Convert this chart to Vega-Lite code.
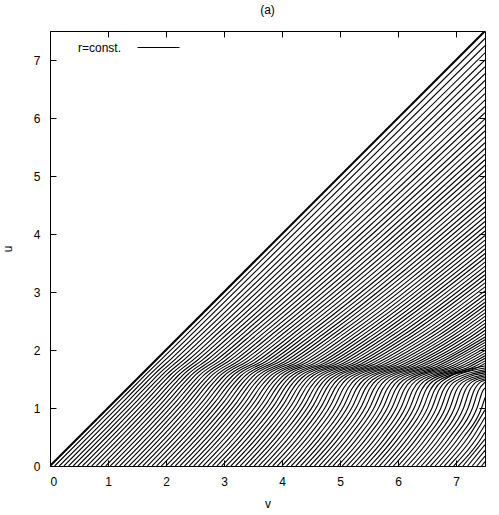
{
  "$schema": "https://vega.github.io/schema/vega-lite/v6.json",
  "width": 435,
  "height": 435,
  "autosize": {"type": "none"},
  "padding": {"left": 50, "top": 31, "right": 14, "bottom": 49},
  "background": "white",
  "config": {
    "font": "Liberation Sans",
    "view": {"stroke": "black", "strokeWidth": 1},
    "axis": {"domain": false, "grid": false, "labelFont": "Liberation Sans", "labelFontSize": 12, "labelColor": "black", "tickColor": "black", "tickSize": -6, "titleFont": "Liberation Sans", "titleFontSize": 12, "titleFontWeight": "normal", "titleColor": "black"}
  },
  "title": {"text": "(a)", "font": "Liberation Sans", "fontSize": 12, "fontWeight": "normal", "offset": 9},
  "datasets": {
    "lines": [
{"k":1,"v":0.08,"u":0},{"k":1,"v":0.727,"u":0.648},{"k":1,"v":1.224,"u":1.148},{"k":1,"v":1.521,"u":1.448},{"k":1,"v":1.67,"u":1.598},{"k":1,"v":1.928,"u":1.848},{"k":1,"v":2.435,"u":2.348},{"k":1,"v":7.5,"u":7.373},
{"k":2,"v":0.16,"u":0},{"k":2,"v":0.803,"u":0.646},{"k":2,"v":1.298,"u":1.146},{"k":2,"v":1.592,"u":1.446},{"k":2,"v":1.741,"u":1.596},{"k":2,"v":2.006,"u":1.846},{"k":2,"v":2.52,"u":2.346},{"k":2,"v":7.5,"u":7.247},
{"k":3,"v":0.24,"u":0},{"k":3,"v":0.88,"u":0.644},{"k":3,"v":1.372,"u":1.144},{"k":3,"v":1.663,"u":1.444},{"k":3,"v":1.811,"u":1.594},{"k":3,"v":2.084,"u":1.844},{"k":3,"v":2.606,"u":2.344},{"k":3,"v":7.5,"u":7.124},
{"k":4,"v":0.32,"u":0},{"k":4,"v":0.957,"u":0.642},{"k":4,"v":1.445,"u":1.142},{"k":4,"v":1.733,"u":1.442},{"k":4,"v":1.881,"u":1.592},{"k":4,"v":2.162,"u":1.842},{"k":4,"v":2.691,"u":2.342},{"k":4,"v":7.5,"u":7.002},
{"k":5,"v":0.4,"u":0},{"k":5,"v":1.034,"u":0.64},{"k":5,"v":1.519,"u":1.14},{"k":5,"v":1.804,"u":1.44},{"k":5,"v":1.952,"u":1.59},{"k":5,"v":2.24,"u":1.84},{"k":5,"v":2.776,"u":2.34},{"k":5,"v":7.5,"u":6.882},
{"k":6,"v":0.48,"u":0},{"k":6,"v":1.11,"u":0.638},{"k":6,"v":1.593,"u":1.138},{"k":6,"v":1.875,"u":1.438},{"k":6,"v":2.022,"u":1.588},{"k":6,"v":2.318,"u":1.838},{"k":6,"v":2.861,"u":2.338},{"k":6,"v":7.5,"u":6.764},
{"k":7,"v":0.56,"u":0},{"k":7,"v":1.187,"u":0.636},{"k":7,"v":1.667,"u":1.136},{"k":7,"v":1.946,"u":1.436},{"k":7,"v":2.092,"u":1.586},{"k":7,"v":2.396,"u":1.836},{"k":7,"v":2.946,"u":2.336},{"k":7,"v":7.5,"u":6.648},
{"k":8,"v":0.64,"u":0},{"k":8,"v":1.264,"u":0.634},{"k":8,"v":1.741,"u":1.134},{"k":8,"v":2.017,"u":1.434},{"k":8,"v":2.163,"u":1.584},{"k":8,"v":2.474,"u":1.834},{"k":8,"v":3.032,"u":2.334},{"k":8,"v":7.5,"u":6.534},
{"k":9,"v":0.72,"u":0},{"k":9,"v":1.34,"u":0.632},{"k":9,"v":1.815,"u":1.132},{"k":9,"v":2.088,"u":1.432},{"k":9,"v":2.233,"u":1.582},{"k":9,"v":2.552,"u":1.832},{"k":9,"v":3.117,"u":2.332},{"k":9,"v":7.5,"u":6.421},
{"k":10,"v":0.8,"u":0},{"k":10,"v":1.417,"u":0.63},{"k":10,"v":1.888,"u":1.13},{"k":10,"v":2.158,"u":1.43},{"k":10,"v":2.303,"u":1.58},{"k":10,"v":2.63,"u":1.83},{"k":10,"v":3.202,"u":2.33},{"k":10,"v":7.5,"u":6.31},
{"k":11,"v":0.88,"u":0},{"k":11,"v":1.494,"u":0.628},{"k":11,"v":1.962,"u":1.128},{"k":11,"v":2.229,"u":1.428},{"k":11,"v":2.374,"u":1.578},{"k":11,"v":2.708,"u":1.828},{"k":11,"v":3.287,"u":2.328},{"k":11,"v":7.5,"u":6.2},
{"k":12,"v":0.96,"u":0},{"k":12,"v":1.57,"u":0.626},{"k":12,"v":2.036,"u":1.126},{"k":12,"v":2.3,"u":1.426},{"k":12,"v":2.444,"u":1.576},{"k":12,"v":2.786,"u":1.826},{"k":12,"v":3.372,"u":2.326},{"k":12,"v":7.5,"u":6.092},
{"k":13,"v":1.04,"u":0},{"k":13,"v":1.647,"u":0.624},{"k":13,"v":2.11,"u":1.124},{"k":13,"v":2.371,"u":1.424},{"k":13,"v":2.514,"u":1.574},{"k":13,"v":2.864,"u":1.824},{"k":13,"v":3.458,"u":2.324},{"k":13,"v":7.5,"u":5.986},
{"k":14,"v":1.12,"u":0},{"k":14,"v":1.724,"u":0.622},{"k":14,"v":2.184,"u":1.122},{"k":14,"v":2.442,"u":1.422},{"k":14,"v":2.585,"u":1.572},{"k":14,"v":2.942,"u":1.822},{"k":14,"v":3.543,"u":2.322},{"k":14,"v":7.5,"u":5.881},
{"k":15,"v":1.2,"u":0},{"k":15,"v":1.801,"u":0.62},{"k":15,"v":2.258,"u":1.12},{"k":15,"v":2.513,"u":1.42},{"k":15,"v":2.655,"u":1.57},{"k":15,"v":3.02,"u":1.82},{"k":15,"v":3.628,"u":2.32},{"k":15,"v":7.5,"u":5.777},
{"k":16,"v":1.28,"u":0},{"k":16,"v":1.877,"u":0.618},{"k":16,"v":2.331,"u":1.118},{"k":16,"v":2.583,"u":1.418},{"k":16,"v":2.725,"u":1.568},{"k":16,"v":3.098,"u":1.818},{"k":16,"v":3.713,"u":2.318},{"k":16,"v":7.5,"u":5.675},
{"k":17,"v":1.36,"u":0},{"k":17,"v":1.954,"u":0.616},{"k":17,"v":2.405,"u":1.116},{"k":17,"v":2.654,"u":1.416},{"k":17,"v":2.796,"u":1.566},{"k":17,"v":3.176,"u":1.816},{"k":17,"v":3.798,"u":2.316},{"k":17,"v":7.5,"u":5.574},
{"k":18,"v":1.44,"u":0},{"k":18,"v":2.031,"u":0.614},{"k":18,"v":2.479,"u":1.114},{"k":18,"v":2.725,"u":1.414},{"k":18,"v":2.866,"u":1.564},{"k":18,"v":3.254,"u":1.814},{"k":18,"v":3.884,"u":2.314},{"k":18,"v":7.5,"u":5.475},
{"k":19,"v":1.52,"u":0},{"k":19,"v":2.107,"u":0.612},{"k":19,"v":2.553,"u":1.112},{"k":19,"v":2.796,"u":1.412},{"k":19,"v":2.936,"u":1.562},{"k":19,"v":3.332,"u":1.812},{"k":19,"v":3.969,"u":2.312},{"k":19,"v":7.5,"u":5.377},
{"k":20,"v":1.6,"u":0},{"k":20,"v":2.184,"u":0.61},{"k":20,"v":2.627,"u":1.11},{"k":20,"v":2.867,"u":1.41},{"k":20,"v":3.007,"u":1.56},{"k":20,"v":3.41,"u":1.81},{"k":20,"v":4.054,"u":2.31},{"k":20,"v":7.5,"u":5.281},
{"k":21,"v":1.68,"u":0},{"k":21,"v":2.261,"u":0.608},{"k":21,"v":2.701,"u":1.108},{"k":21,"v":2.938,"u":1.408},{"k":21,"v":3.077,"u":1.558},{"k":21,"v":3.488,"u":1.808},{"k":21,"v":4.139,"u":2.308},{"k":21,"v":7.5,"u":5.185},
{"k":22,"v":1.76,"u":0},{"k":22,"v":2.337,"u":0.606},{"k":22,"v":2.774,"u":1.106},{"k":22,"v":3.008,"u":1.406},{"k":22,"v":3.147,"u":1.556},{"k":22,"v":3.566,"u":1.806},{"k":22,"v":4.224,"u":2.306},{"k":22,"v":7.5,"u":5.091},
{"k":23,"v":1.84,"u":0},{"k":23,"v":2.414,"u":0.604},{"k":23,"v":2.848,"u":1.104},{"k":23,"v":3.079,"u":1.404},{"k":23,"v":3.218,"u":1.554},{"k":23,"v":3.644,"u":1.804},{"k":23,"v":4.31,"u":2.304},{"k":23,"v":7.5,"u":4.999},
{"k":24,"v":1.92,"u":0},{"k":24,"v":2.491,"u":0.602},{"k":24,"v":2.922,"u":1.102},{"k":24,"v":3.15,"u":1.402},{"k":24,"v":3.288,"u":1.552},{"k":24,"v":3.722,"u":1.802},{"k":24,"v":4.395,"u":2.302},{"k":24,"v":7.5,"u":4.907},
{"k":25,"v":2.0,"u":0},{"k":25,"v":2.568,"u":0.6},{"k":25,"v":2.996,"u":1.1},{"k":25,"v":3.221,"u":1.4},{"k":25,"v":3.359,"u":1.55},{"k":25,"v":3.8,"u":1.8},{"k":25,"v":4.48,"u":2.3},{"k":25,"v":7.5,"u":4.817},
{"k":26,"v":2.08,"u":0},{"k":26,"v":2.644,"u":0.598},{"k":26,"v":3.07,"u":1.098},{"k":26,"v":3.292,"u":1.398},{"k":26,"v":3.429,"u":1.548},{"k":26,"v":3.878,"u":1.798},{"k":26,"v":4.565,"u":2.298},{"k":26,"v":7.5,"u":4.728},
{"k":27,"v":2.16,"u":0},{"k":27,"v":2.721,"u":0.596},{"k":27,"v":3.144,"u":1.096},{"k":27,"v":3.363,"u":1.396},{"k":27,"v":3.499,"u":1.546},{"k":27,"v":3.956,"u":1.796},{"k":27,"v":4.65,"u":2.296},{"k":27,"v":7.5,"u":4.639},
{"k":28,"v":2.24,"u":0},{"k":28,"v":2.798,"u":0.594},{"k":28,"v":3.218,"u":1.094},{"k":28,"v":3.434,"u":1.394},{"k":28,"v":3.57,"u":1.544},{"k":28,"v":4.034,"u":1.794},{"k":28,"v":4.736,"u":2.294},{"k":28,"v":7.5,"u":4.553},
{"k":29,"v":2.32,"u":0},{"k":29,"v":2.874,"u":0.592},{"k":29,"v":3.291,"u":1.092},{"k":29,"v":3.504,"u":1.392},{"k":29,"v":3.64,"u":1.542},{"k":29,"v":4.112,"u":1.792},{"k":29,"v":4.821,"u":2.292},{"k":29,"v":7.5,"u":4.467},
{"k":30,"v":2.4,"u":0},{"k":30,"v":2.951,"u":0.59},{"k":30,"v":3.365,"u":1.09},{"k":30,"v":3.575,"u":1.39},{"k":30,"v":3.71,"u":1.54},{"k":30,"v":4.19,"u":1.79},{"k":30,"v":4.906,"u":2.29},{"k":30,"v":7.5,"u":4.382},
{"k":31,"v":2.48,"u":0},{"k":31,"v":3.028,"u":0.588},{"k":31,"v":3.439,"u":1.088},{"k":31,"v":3.646,"u":1.388},{"k":31,"v":3.781,"u":1.538},{"k":31,"v":4.268,"u":1.788},{"k":31,"v":4.991,"u":2.288},{"k":31,"v":7.5,"u":4.298},
{"k":32,"v":2.56,"u":0},{"k":32,"v":3.104,"u":0.586},{"k":32,"v":3.513,"u":1.086},{"k":32,"v":3.717,"u":1.386},{"k":32,"v":3.851,"u":1.536},{"k":32,"v":4.346,"u":1.786},{"k":32,"v":5.076,"u":2.286},{"k":32,"v":7.5,"u":4.216},
{"k":33,"v":2.64,"u":0},{"k":33,"v":3.181,"u":0.584},{"k":33,"v":3.587,"u":1.084},{"k":33,"v":3.788,"u":1.384},{"k":33,"v":3.921,"u":1.534},{"k":33,"v":4.424,"u":1.784},{"k":33,"v":5.162,"u":2.284},{"k":33,"v":7.5,"u":4.134},
{"k":34,"v":2.72,"u":0},{"k":34,"v":3.258,"u":0.582},{"k":34,"v":3.661,"u":1.082},{"k":34,"v":3.859,"u":1.382},{"k":34,"v":3.992,"u":1.532},{"k":34,"v":4.502,"u":1.782},{"k":34,"v":5.247,"u":2.282},{"k":34,"v":7.5,"u":4.053},
{"k":35,"v":2.8,"u":0},{"k":35,"v":3.335,"u":0.58},{"k":35,"v":3.734,"u":1.08},{"k":35,"v":3.929,"u":1.38},{"k":35,"v":4.062,"u":1.53},{"k":35,"v":4.58,"u":1.78},{"k":35,"v":5.332,"u":2.28},{"k":35,"v":7.5,"u":3.974},
{"k":36,"v":2.88,"u":0},{"k":36,"v":3.411,"u":0.578},{"k":36,"v":3.808,"u":1.078},{"k":36,"v":4.0,"u":1.378},{"k":36,"v":4.132,"u":1.528},{"k":36,"v":4.658,"u":1.778},{"k":36,"v":5.417,"u":2.278},{"k":36,"v":7.5,"u":3.895},
{"k":37,"v":2.96,"u":0},{"k":37,"v":3.488,"u":0.576},{"k":37,"v":3.882,"u":1.076},{"k":37,"v":4.071,"u":1.376},{"k":37,"v":4.203,"u":1.526},{"k":37,"v":4.736,"u":1.776},{"k":37,"v":5.502,"u":2.276},{"k":37,"v":7.5,"u":3.817},
{"k":38,"v":3.04,"u":0},{"k":38,"v":3.565,"u":0.574},{"k":38,"v":3.956,"u":1.074},{"k":38,"v":4.142,"u":1.374},{"k":38,"v":4.273,"u":1.524},{"k":38,"v":4.814,"u":1.774},{"k":38,"v":5.588,"u":2.274},{"k":38,"v":7.5,"u":3.741},
{"k":39,"v":3.12,"u":0},{"k":39,"v":3.641,"u":0.572},{"k":39,"v":4.03,"u":1.072},{"k":39,"v":4.213,"u":1.372},{"k":39,"v":4.343,"u":1.522},{"k":39,"v":4.892,"u":1.772},{"k":39,"v":5.673,"u":2.272},{"k":39,"v":7.5,"u":3.665},
{"k":40,"v":3.2,"u":0},{"k":40,"v":3.718,"u":0.57},{"k":40,"v":4.104,"u":1.07},{"k":40,"v":4.284,"u":1.37},{"k":40,"v":4.414,"u":1.52},{"k":40,"v":4.97,"u":1.77},{"k":40,"v":5.758,"u":2.27},{"k":40,"v":7.5,"u":3.59},
{"k":41,"v":3.28,"u":0},{"k":41,"v":3.795,"u":0.568},{"k":41,"v":4.177,"u":1.068},{"k":41,"v":4.354,"u":1.368},{"k":41,"v":4.484,"u":1.518},{"k":41,"v":5.048,"u":1.768},{"k":41,"v":5.843,"u":2.268},{"k":41,"v":7.5,"u":3.516},
{"k":42,"v":3.36,"u":0},{"k":42,"v":3.871,"u":0.566},{"k":42,"v":4.251,"u":1.066},{"k":42,"v":4.425,"u":1.366},{"k":42,"v":4.554,"u":1.516},{"k":42,"v":5.126,"u":1.766},{"k":42,"v":5.928,"u":2.266},{"k":42,"v":7.5,"u":3.442},
{"k":43,"v":3.44,"u":0},{"k":43,"v":3.948,"u":0.564},{"k":43,"v":4.325,"u":1.064},{"k":43,"v":4.496,"u":1.364},{"k":43,"v":4.625,"u":1.514},{"k":43,"v":5.204,"u":1.764},{"k":43,"v":6.014,"u":2.264},{"k":43,"v":7.5,"u":3.37},
{"k":44,"v":3.52,"u":0},{"k":44,"v":4.025,"u":0.562},{"k":44,"v":4.399,"u":1.062},{"k":44,"v":4.567,"u":1.362},{"k":44,"v":4.695,"u":1.512},{"k":44,"v":5.282,"u":1.762},{"k":44,"v":6.099,"u":2.262},{"k":44,"v":7.5,"u":3.298},
{"k":45,"v":3.6,"u":0},{"k":45,"v":4.102,"u":0.56},{"k":45,"v":4.473,"u":1.06},{"k":45,"v":4.638,"u":1.36},{"k":45,"v":4.765,"u":1.51},{"k":45,"v":5.36,"u":1.76},{"k":45,"v":6.184,"u":2.26},{"k":45,"v":7.5,"u":3.228},
{"k":46,"v":3.68,"u":0},{"k":46,"v":4.178,"u":0.558},{"k":46,"v":4.547,"u":1.058},{"k":46,"v":4.709,"u":1.358},{"k":46,"v":4.836,"u":1.508},{"k":46,"v":5.438,"u":1.758},{"k":46,"v":6.269,"u":2.258},{"k":46,"v":7.5,"u":3.158},
{"k":47,"v":3.76,"u":0},{"k":47,"v":4.255,"u":0.556},{"k":47,"v":4.62,"u":1.056},{"k":47,"v":4.779,"u":1.356},{"k":47,"v":4.906,"u":1.506},{"k":47,"v":5.516,"u":1.756},{"k":47,"v":6.354,"u":2.256},{"k":47,"v":7.5,"u":3.089},
{"k":48,"v":3.84,"u":0},{"k":48,"v":4.332,"u":0.554},{"k":48,"v":4.694,"u":1.054},{"k":48,"v":4.85,"u":1.354},{"k":48,"v":4.976,"u":1.504},{"k":48,"v":5.594,"u":1.754},{"k":48,"v":6.44,"u":2.254},{"k":48,"v":7.5,"u":3.02},
{"k":49,"v":3.92,"u":0},{"k":49,"v":4.408,"u":0.552},{"k":49,"v":4.768,"u":1.052},{"k":49,"v":4.921,"u":1.352},{"k":49,"v":5.047,"u":1.502},{"k":49,"v":5.672,"u":1.752},{"k":49,"v":6.525,"u":2.252},{"k":49,"v":7.5,"u":2.953},
{"k":50,"v":4.0,"u":0},{"k":50,"v":4.485,"u":0.55},{"k":50,"v":4.842,"u":1.05},{"k":50,"v":4.992,"u":1.35},{"k":50,"v":5.117,"u":1.5},{"k":50,"v":5.75,"u":1.75},{"k":50,"v":6.61,"u":2.25},{"k":50,"v":7.5,"u":2.886},
{"k":51,"v":4.08,"u":0},{"k":51,"v":4.562,"u":0.548},{"k":51,"v":4.918,"u":1.048},{"k":51,"v":5.066,"u":1.348},{"k":51,"v":5.191,"u":1.498},{"k":51,"v":5.828,"u":1.748},{"k":51,"v":6.692,"u":2.248},{"k":51,"v":7.5,"u":2.824},
{"k":52,"v":4.16,"u":0},{"k":52,"v":4.64,"u":0.546},{"k":52,"v":4.994,"u":1.046},{"k":52,"v":5.141,"u":1.346},{"k":52,"v":5.265,"u":1.496},{"k":52,"v":5.906,"u":1.746},{"k":52,"v":6.773,"u":2.246},{"k":52,"v":7.5,"u":2.762},
{"k":53,"v":4.24,"u":0},{"k":53,"v":4.717,"u":0.544},{"k":53,"v":5.07,"u":1.044},{"k":53,"v":5.215,"u":1.344},{"k":53,"v":5.34,"u":1.494},{"k":53,"v":5.984,"u":1.744},{"k":53,"v":6.855,"u":2.244},{"k":53,"v":7.5,"u":2.701},
{"k":54,"v":4.32,"u":0},{"k":54,"v":4.794,"u":0.542},{"k":54,"v":5.146,"u":1.042},{"k":54,"v":5.29,"u":1.342},{"k":54,"v":5.414,"u":1.492},{"k":54,"v":6.062,"u":1.742},{"k":54,"v":6.936,"u":2.242},{"k":54,"v":7.5,"u":2.64},
{"k":55,"v":4.4,"u":0},{"k":55,"v":4.872,"u":0.54},{"k":55,"v":5.222,"u":1.04},{"k":55,"v":5.364,"u":1.34},{"k":55,"v":5.488,"u":1.49},{"k":55,"v":6.14,"u":1.74},{"k":55,"v":7.018,"u":2.24},{"k":55,"v":7.5,"u":2.579},
{"k":56,"v":4.48,"u":0},{"k":56,"v":4.949,"u":0.538},{"k":56,"v":5.298,"u":1.038},{"k":56,"v":5.439,"u":1.338},{"k":56,"v":5.562,"u":1.488},{"k":56,"v":6.218,"u":1.738},{"k":56,"v":7.1,"u":2.238},{"k":56,"v":7.5,"u":2.519},
{"k":57,"v":4.56,"u":0},{"k":57,"v":5.026,"u":0.536},{"k":57,"v":5.373,"u":1.036},{"k":57,"v":5.513,"u":1.336},{"k":57,"v":5.636,"u":1.486},{"k":57,"v":6.296,"u":1.736},{"k":57,"v":7.181,"u":2.236},{"k":57,"v":7.5,"u":2.459},
{"k":58,"v":4.64,"u":0},{"k":58,"v":5.104,"u":0.534},{"k":58,"v":5.449,"u":1.034},{"k":58,"v":5.587,"u":1.334},{"k":58,"v":5.71,"u":1.484},{"k":58,"v":6.374,"u":1.734},{"k":58,"v":7.263,"u":2.234},{"k":58,"v":7.5,"u":2.4},
{"k":59,"v":4.72,"u":0},{"k":59,"v":5.181,"u":0.532},{"k":59,"v":5.525,"u":1.032},{"k":59,"v":5.662,"u":1.332},{"k":59,"v":5.785,"u":1.482},{"k":59,"v":6.452,"u":1.732},{"k":59,"v":7.344,"u":2.232},{"k":59,"v":7.5,"u":2.34},
{"k":60,"v":4.8,"u":0},{"k":60,"v":5.259,"u":0.53},{"k":60,"v":5.601,"u":1.03},{"k":60,"v":5.736,"u":1.33},{"k":60,"v":5.859,"u":1.48},{"k":60,"v":6.53,"u":1.73},{"k":60,"v":7.426,"u":2.23},{"k":60,"v":7.5,"u":2.281},
{"k":61,"v":4.88,"u":0},{"k":61,"v":5.336,"u":0.528},{"k":61,"v":5.677,"u":1.028},{"k":61,"v":5.811,"u":1.328},{"k":61,"v":5.933,"u":1.478},{"k":61,"v":6.608,"u":1.728},{"k":61,"v":7.5,"u":2.224},
{"k":62,"v":4.96,"u":0},{"k":62,"v":5.413,"u":0.526},{"k":62,"v":5.753,"u":1.026},{"k":62,"v":5.885,"u":1.326},{"k":62,"v":6.007,"u":1.476},{"k":62,"v":6.686,"u":1.726},{"k":62,"v":7.5,"u":2.177},
{"k":63,"v":5.04,"u":0},{"k":63,"v":5.491,"u":0.524},{"k":63,"v":5.829,"u":1.024},{"k":63,"v":5.959,"u":1.324},{"k":63,"v":6.081,"u":1.474},{"k":63,"v":6.764,"u":1.724},{"k":63,"v":7.5,"u":2.13},
{"k":64,"v":5.12,"u":0},{"k":64,"v":5.568,"u":0.522},{"k":64,"v":5.905,"u":1.022},{"k":64,"v":6.034,"u":1.322},{"k":64,"v":6.155,"u":1.472},{"k":64,"v":6.842,"u":1.722},{"k":64,"v":7.5,"u":2.083},
{"k":65,"v":5.2,"u":0},{"k":65,"v":5.645,"u":0.52},{"k":65,"v":5.981,"u":1.02},{"k":65,"v":6.108,"u":1.32},{"k":65,"v":6.23,"u":1.47},{"k":65,"v":6.92,"u":1.72},{"k":65,"v":7.5,"u":2.037},
{"k":66,"v":5.28,"u":0},{"k":66,"v":5.723,"u":0.518},{"k":66,"v":6.057,"u":1.018},{"k":66,"v":6.183,"u":1.318},{"k":66,"v":6.304,"u":1.468},{"k":66,"v":6.998,"u":1.718},{"k":66,"v":7.5,"u":1.992},
{"k":67,"v":5.36,"u":0},{"k":67,"v":5.8,"u":0.516},{"k":67,"v":6.133,"u":1.016},{"k":67,"v":6.257,"u":1.316},{"k":67,"v":6.378,"u":1.466},{"k":67,"v":7.076,"u":1.716},{"k":67,"v":7.5,"u":1.946},
{"k":68,"v":5.44,"u":0},{"k":68,"v":5.877,"u":0.514},{"k":68,"v":6.209,"u":1.014},{"k":68,"v":6.332,"u":1.314},{"k":68,"v":6.452,"u":1.464},{"k":68,"v":7.154,"u":1.714},{"k":68,"v":7.5,"u":1.901},
{"k":69,"v":5.52,"u":0},{"k":69,"v":5.955,"u":0.512},{"k":69,"v":6.284,"u":1.012},{"k":69,"v":6.406,"u":1.312},{"k":69,"v":6.526,"u":1.462},{"k":69,"v":7.232,"u":1.712},{"k":69,"v":7.5,"u":1.856},
{"k":70,"v":5.6,"u":0},{"k":70,"v":6.032,"u":0.51},{"k":70,"v":6.36,"u":1.01},{"k":70,"v":6.48,"u":1.31},{"k":70,"v":6.6,"u":1.46},{"k":70,"v":7.31,"u":1.71},{"k":70,"v":7.5,"u":1.812},
{"k":71,"v":5.68,"u":0},{"k":71,"v":6.109,"u":0.508},{"k":71,"v":6.436,"u":1.008},{"k":71,"v":6.555,"u":1.308},{"k":71,"v":6.675,"u":1.458},{"k":71,"v":7.388,"u":1.708},{"k":71,"v":7.5,"u":1.768},
{"k":72,"v":5.76,"u":0},{"k":72,"v":6.187,"u":0.506},{"k":72,"v":6.512,"u":1.006},{"k":72,"v":6.629,"u":1.306},{"k":72,"v":6.749,"u":1.456},{"k":72,"v":7.5,"u":1.724},
{"k":73,"v":5.84,"u":0},{"k":73,"v":6.264,"u":0.504},{"k":73,"v":6.588,"u":1.004},{"k":73,"v":6.704,"u":1.304},{"k":73,"v":6.823,"u":1.454},{"k":73,"v":7.5,"u":1.689},
{"k":74,"v":5.92,"u":0},{"k":74,"v":6.341,"u":0.502},{"k":74,"v":6.664,"u":1.002},{"k":74,"v":6.778,"u":1.302},{"k":74,"v":6.897,"u":1.452},{"k":74,"v":7.5,"u":1.66},
{"k":75,"v":6.0,"u":0},{"k":75,"v":6.419,"u":0.5},{"k":75,"v":6.74,"u":1},{"k":75,"v":6.853,"u":1.3},{"k":75,"v":6.971,"u":1.45},{"k":75,"v":7.5,"u":1.631},
{"k":76,"v":6.08,"u":0},{"k":76,"v":6.498,"u":0.5},{"k":76,"v":6.818,"u":1},{"k":76,"v":6.929,"u":1.3},{"k":76,"v":7.047,"u":1.45},{"k":76,"v":7.5,"u":1.605},
{"k":77,"v":6.16,"u":0},{"k":77,"v":6.577,"u":0.5},{"k":77,"v":6.896,"u":1},{"k":77,"v":7.005,"u":1.3},{"k":77,"v":7.124,"u":1.45},{"k":77,"v":7.5,"u":1.578},
{"k":78,"v":6.24,"u":0},{"k":78,"v":6.657,"u":0.5},{"k":78,"v":6.974,"u":1},{"k":78,"v":7.082,"u":1.3},{"k":78,"v":7.2,"u":1.45},{"k":78,"v":7.5,"u":1.551},
{"k":79,"v":6.32,"u":0},{"k":79,"v":6.736,"u":0.5},{"k":79,"v":7.052,"u":1},{"k":79,"v":7.158,"u":1.3},{"k":79,"v":7.276,"u":1.45},{"k":79,"v":7.5,"u":1.525},
{"k":80,"v":6.4,"u":0},{"k":80,"v":6.816,"u":0.5},{"k":80,"v":7.13,"u":1},{"k":80,"v":7.235,"u":1.3},{"k":80,"v":7.352,"u":1.45},{"k":80,"v":7.5,"u":1.5},
{"k":81,"v":6.48,"u":0},{"k":81,"v":6.895,"u":0.5},{"k":81,"v":7.208,"u":1},{"k":81,"v":7.311,"u":1.3},{"k":81,"v":7.428,"u":1.45},{"k":81,"v":7.5,"u":1.474},
{"k":82,"v":6.56,"u":0},{"k":82,"v":6.974,"u":0.5},{"k":82,"v":7.285,"u":1},{"k":82,"v":7.387,"u":1.3},{"k":82,"v":7.5,"u":1.445},
{"k":83,"v":6.64,"u":0},{"k":83,"v":7.054,"u":0.5},{"k":83,"v":7.363,"u":1},{"k":83,"v":7.464,"u":1.3},{"k":83,"v":7.5,"u":1.346},
{"k":84,"v":6.72,"u":0},{"k":84,"v":7.133,"u":0.5},{"k":84,"v":7.441,"u":1},{"k":84,"v":7.5,"u":1.178},
{"k":85,"v":6.8,"u":0},{"k":85,"v":7.212,"u":0.5},{"k":85,"v":7.5,"u":0.969},
{"k":86,"v":6.88,"u":0},{"k":86,"v":7.292,"u":0.5},{"k":86,"v":7.5,"u":0.84},
{"k":87,"v":6.96,"u":0},{"k":87,"v":7.371,"u":0.5},{"k":87,"v":7.5,"u":0.712},
{"k":88,"v":7.04,"u":0},{"k":88,"v":7.45,"u":0.5},{"k":88,"v":7.5,"u":0.583},
{"k":89,"v":7.12,"u":0},{"k":89,"v":7.5,"u":0.464},
{"k":90,"v":7.2,"u":0},{"k":90,"v":7.5,"u":0.367},
{"k":91,"v":7.28,"u":0},{"k":91,"v":7.5,"u":0.269},
{"k":92,"v":7.36,"u":0},{"k":92,"v":7.5,"u":0.172},
{"k":93,"v":7.44,"u":0},{"k":93,"v":7.5,"u":0.074}
    ],
    "diag": [{"v": 0, "u": 0}, {"v": 7.5, "u": 7.5}]
  },
  "layer": [
    {
      "data": {"name": "lines"},
      "mark": {"type": "line", "interpolate": "monotone", "strokeWidth": 1.1, "clip": true},
      "encoding": {
        "x": {"field": "v", "type": "quantitative", "scale": {"domain": [0, 7.5], "nice": false}, "axis": {"orient": "bottom", "values": [0,1,2,3,4,5,6,7], "title": "v", "labelPadding": 16, "titleY": 32}},
        "y": {"field": "u", "type": "quantitative", "scale": {"domain": [0, 7.5], "nice": false}, "axis": {"orient": "left", "values": [0,1,2,3,4,5,6,7], "title": "u", "labelPadding": 16, "titleX": -36}},
        "detail": {"field": "k"},
        "color": {"datum": "r=const.", "scale": {"range": ["black"]}, "legend": {"orient": "none", "legendX": 27, "legendY": -5, "title": null, "symbolType": "stroke", "symbolSize": 1764, "symbolStrokeWidth": 1, "labelFontSize": 12, "labelFont": "Liberation Sans", "labelOffset": -102, "symbolOffset": 60, "padding": 0}}
      }
    },
    {
      "data": {"name": "diag"},
      "mark": {"type": "line", "strokeWidth": 2, "color": "black", "clip": true},
      "encoding": {
        "x": {"field": "v", "type": "quantitative", "scale": {"domain": [0, 7.5], "nice": false}, "axis": {"orient": "top", "values": [0,1,2,3,4,5,6,7], "labels": false, "title": null}},
        "y": {"field": "u", "type": "quantitative", "scale": {"domain": [0, 7.5], "nice": false}, "axis": {"orient": "right", "values": [0,1,2,3,4,5,6,7], "labels": false, "title": null}}
      }
    }
  ],
  "resolve": {"axis": {"x": "independent", "y": "independent"}}
}
